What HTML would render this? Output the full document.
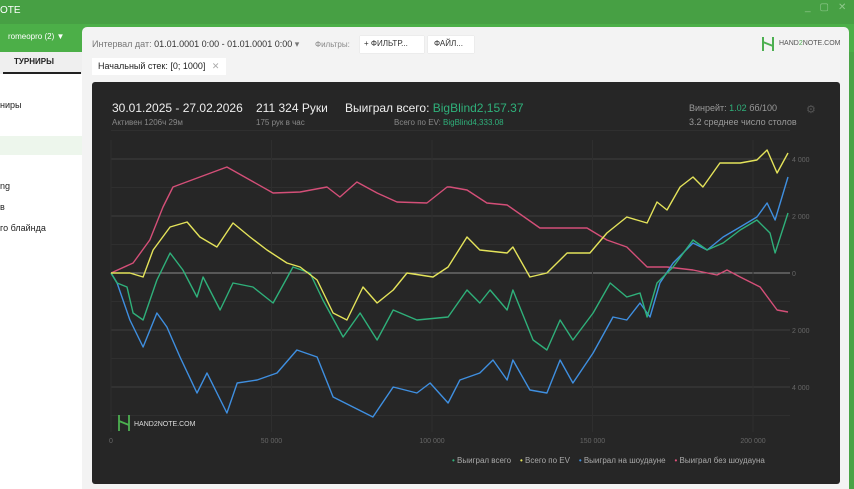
<!DOCTYPE html>
<html><head><meta charset="utf-8">
<style>
*{box-sizing:border-box;margin:0;padding:0}
body{width:854px;height:489px;overflow:hidden;background:#4aa346;font-family:"Liberation Sans","DejaVu Sans",sans-serif;position:relative}
.abs{position:absolute;white-space:nowrap}
</style></head><body>
<div class="abs" style="left:0;top:0;width:854px;height:24px;background:#47a044;"></div>
<div class="abs" style="left:0;top:5px;color:#fff;font-size:10px;">OTE</div>
<div class="abs" style="left:805px;top:2px;color:#8fc88c;font-size:10px;letter-spacing:9px">_▢✕</div>
<div class="abs" style="left:0;top:24px;width:854px;height:28px;background:#4caf48"></div>
<div class="abs" style="left:8px;top:32px;color:#fff;font-size:8px;">romeopro (2) ▼</div>
<div class="abs" style="left:0;top:52px;width:82px;height:437px;background:#fff"></div>
<div class="abs" style="left:0;top:52px;width:82px;height:22px;background:#efefef"></div>
<div class="abs" style="left:14px;top:57px;font-size:8px;font-weight:bold;color:#222">ТУРНИРЫ</div>
<div class="abs" style="left:3px;top:72px;width:78px;height:2px;background:#222"></div>
<div class="abs" style="left:0;top:100px;font-size:9px;color:#222">ниры</div>
<div class="abs" style="left:0;top:136px;width:82px;height:19px;background:#edf6ec"></div>
<div class="abs" style="left:0;top:181px;font-size:9px;color:#222">ng</div>
<div class="abs" style="left:0;top:202px;font-size:9px;color:#222">в</div>
<div class="abs" style="left:0;top:223px;font-size:9px;color:#222">го блайнда</div>

<div class="abs" style="left:82px;top:27px;width:767px;height:462px;background:#f3f3f3;border-radius:5px 5px 0 0"></div>
<div class="abs" style="left:92px;top:39px;font-size:9px;color:#777">Интервал дат: <span style="color:#333">01.01.0001 0:00 - 01.01.0001 0:00</span> ▾</div>
<div class="abs" style="left:315px;top:40px;font-size:8px;color:#888">Фильтры:</div>
<div class="abs" style="left:360px;top:36px;width:64px;height:17px;background:#fff;font-size:8px;color:#333;padding:3px 4px;box-shadow:0 0 1px #ccc">+ ФИЛЬТР...</div>
<div class="abs" style="left:428px;top:36px;width:46px;height:17px;background:#fff;font-size:8px;color:#333;padding:3px 6px;box-shadow:0 0 1px #ccc">ФАЙЛ...</div>
<svg class="abs" style="left:761px;top:36px" width="14" height="16"><path d="M2 1V15M12 1V15M2 6L12 10" stroke="#4caf50" stroke-width="2" fill="none"/></svg>
<div class="abs" style="left:779px;top:40px;font-size:7px;color:#555">HAND<span style="color:#4caf50">2</span>NOTE.COM</div>
<div class="abs" style="left:92px;top:58px;width:134px;height:17px;background:#fff;font-size:9px;color:#222;padding:3px 6px">Начальный стек: [0; 1000] <span style="color:#aaa;margin-left:4px">✕</span></div>

<div class="abs" style="left:92px;top:82px;width:748px;height:402px;background:#262626;border-radius:3px"></div>
<div class="abs" style="left:112px;top:101px;font-size:12px;color:#eee">30.01.2025 - 27.02.2026</div>
<div class="abs" style="left:112px;top:118px;font-size:8px;color:#888">Активен 1206ч 29м</div>
<div class="abs" style="left:256px;top:101px;font-size:12px;color:#eee">211 324 Руки</div>
<div class="abs" style="left:256px;top:118px;font-size:8px;color:#888">175 рук в час</div>
<div class="abs" style="left:345px;top:101px;font-size:12px;color:#eee">Выиграл всего: <span style="color:#2fb07a">BigBlind2,157.37</span></div>
<div class="abs" style="left:394px;top:118px;font-size:8px;color:#888">Всего по EV: <span style="color:#2fb07a">BigBlind4,333.08</span></div>
<div class="abs" style="left:689px;top:103px;font-size:9px;color:#999">Винрейт: <span style="color:#2fb07a">1.02</span> бб/100</div>
<div class="abs" style="left:689px;top:117px;font-size:9px;color:#999">3.2 среднее число столов</div>
<div class="abs" style="left:806px;top:103px;font-size:11px;color:#555">⚙</div>

<svg class="abs" style="left:0;top:0" width="854" height="489">
<g id="grid"></g><g id="lines"></g><g id="axes"></g>
<path d="M119 415V431M129 415V431M119 421L129 425" stroke="#4caf50" stroke-width="1.8" fill="none"/>
<text x="134" y="426" font-size="7" fill="#ddd">HAND2NOTE.COM</text>
</svg>
<div class="abs" style="left:452px;top:456px;font-size:8px;color:#aaa">
<span><span style="color:#2fb07a">•</span> Выиграл всего</span>&nbsp;&nbsp;&nbsp;
<span><span style="color:#e4e35a">•</span> Всего по EV</span>&nbsp;&nbsp;&nbsp;
<span><span style="color:#3f8fe0">•</span> Выиграл на шоудауне</span>&nbsp;&nbsp;&nbsp;
<span><span style="color:#e0507a">•</span> Выиграл без шоудауна</span>
</div>
<script>
const xTicks=[0,50000,100000,150000,200000];
const xTickLabels=["0","50 000","100 000","150 000","200 000"];
const yTicks=[4000,2000,0,-2000,-4000];
const yTickLabels=["4 000","2 000","0","2 000","4 000"];
const pinkHands=[0,6.9,12.1,16.2,19.3,27.7,36.1,43.3,50.5,58.9,67.3,71.3,76.6,82.9,89.1,98.4,104.7,105.6,110.9,117.1,123.4,133.6,142.1,148.3,154.5,160.7,167.0,173.2,181.3,188.8,191.9,196.0,202.2,207.5,210.9];
const pinkValues=[0,351,1158,2316,3018,3370,3721,3264,2808,2843,3018,2668,3194,2808,2492,2457,3018,3018,2913,2457,2387,1580,1580,1580,1158,913,211,211,105,-70,105,-140,-491,-1299,-1369];
const yellowHands=[0,5.9,10.0,13.1,18.4,23.7,27.7,33.0,38.0,43.3,48.6,54.8,58.9,64.2,69.2,73.5,78.5,82.9,87.9,92.2,100.3,105.0,110.9,114.9,123.4,125.2,130.5,135.8,142.1,149.2,154.5,160.7,167.0,170.1,173.2,177.3,181.3,184.4,189.7,196.0,201.2,204.4,207.5,210.9];
const yellowValues=[0,0,-140,807,1615,1790,1264,913,1755,1264,807,351,211,-246,-1404,-1650,-491,-1053,-597,0,-140,211,1264,807,702,913,-140,0,702,702,1404,1966,1755,2492,2211,3018,3370,3018,3861,3861,3966,4317,3510,4212];
const greenHands=[0,1.9,5.0,6.9,10.0,14.3,18.4,22.4,26.8,28.7,34.0,38.0,44.2,50.5,56.7,62.0,66.0,72.3,77.6,82.9,87.9,95.3,105.0,110.9,114.9,118.1,123.4,125.2,131.5,135.8,139.9,143.9,150.2,155.5,160.7,164.8,167.0,170.1,175.1,181.3,185.7,190.7,196.0,201.2,205.3,206.9,210.9];
const greenValues=[0,-351,-491,-1404,-1650,-246,702,105,-843,-140,-1299,-351,-491,-1053,211,0,-948,-2246,-1404,-2352,-1299,-1650,-1544,-597,-1053,-597,-1299,-597,-2352,-2703,-1650,-2352,-1404,-351,-843,-702,-1544,-351,211,1158,807,1053,1509,1860,1404,702,2106];
const blueHands=[0,1.9,5.9,10.0,14.3,17.4,21.5,26.8,29.9,36.1,39.3,45.5,51.7,57.9,64.2,69.2,75.4,81.6,87.9,95.3,99.4,105.0,108.7,114.9,119.0,123.4,125.2,130.5,135.8,139.9,143.9,150.2,156.4,160.7,164.8,167.9,171.0,175.1,181.3,185.7,190.7,196.0,201.2,204.4,206.9,210.9];
const blueValues=[0,-351,-1650,-2597,-1404,-1895,-2948,-4212,-3510,-4914,-3861,-3756,-3510,-2703,-2948,-4352,-4703,-5054,-4001,-4212,-3861,-4563,-3756,-3510,-3054,-3756,-3054,-4107,-4212,-3054,-3861,-2808,-1544,-1650,-1053,-1544,-351,351,1053,807,1264,1615,1966,2457,1860,3370];

const NS='http://www.w3.org/2000/svg';
function xs(h){return 111+h*642/200000;}
function ys(v){return 273-v*57/2000;}
const grid=document.getElementById('grid'),lines=document.getElementById('lines'),axes=document.getElementById('axes');
function mk(tag,attrs,parent){const e=document.createElementNS(NS,tag);for(const k in attrs)e.setAttribute(k,attrs[k]);parent.appendChild(e);return e;}
for(let v=5000;v>=-5000;v-=1000){
  const l=mk('line',{x1:111,x2:790,y1:ys(v),y2:ys(v),stroke:v===0?'#8a8a8a':(v%2000===0?'#3e3e3e':'#2f2f2f'),'stroke-width':1},grid);
  
  
}
xTicks.forEach((t,i)=>{
  const l=mk('line',{x1:xs(t),x2:xs(t),y1:140,y2:432,stroke:'#2e2e2e'},grid);
  
  
  const tx=mk('text',{x:xs(t),y:443,'font-size':7,fill:'#666','text-anchor':'middle'},axes);
  tx.textContent=xTickLabels[i];
  
  
});
yTicks.forEach((t,i)=>{
  const tx=mk('text',{x:792,y:ys(t)+3,'font-size':7,fill:'#666'},axes);
  tx.textContent=yTickLabels[i];
  
  
});
function series(hands,vals,color,name){
  const d=hands.map((h,i)=>(i?'L':'M')+xs(h*1000).toFixed(1)+' '+ys(vals[i]).toFixed(1)).join(' ');
  const p=mk('path',{d:d,fill:'none',stroke:color,'stroke-width':1.4,'stroke-linejoin':'round'},lines);
  
  
}
series(pinkHands,pinkValues,'#d44f78','line-won-without-showdown');
series(blueHands,blueValues,'#3f8fe0','line-won-at-showdown');
series(greenHands,greenValues,'#2fb07a','line-won-total');
series(yellowHands,yellowValues,'#e4e35a','line-total-ev');
</script>
</body></html>
